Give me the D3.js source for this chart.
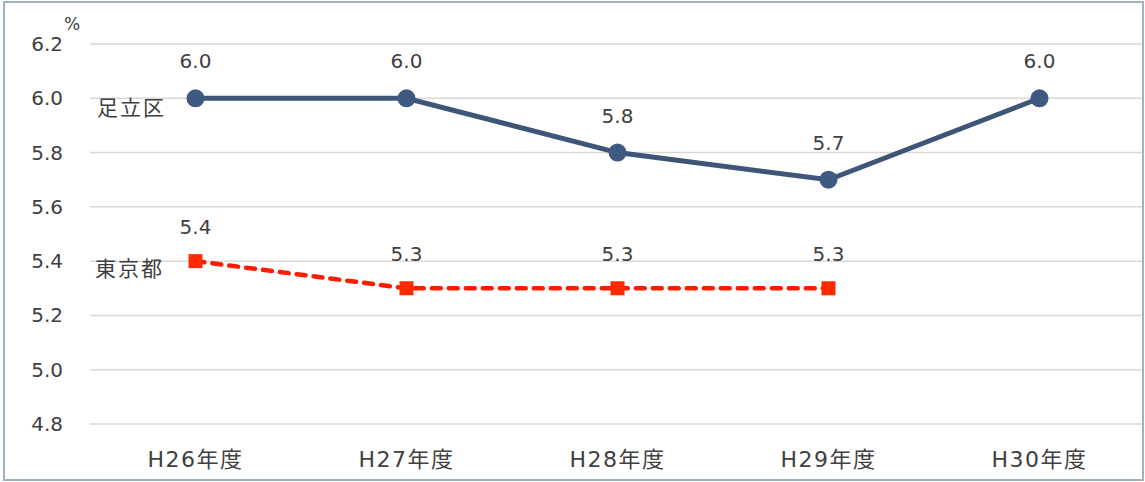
<!DOCTYPE html>
<html>
<head>
<meta charset="utf-8">
<script src="https://cdn.jsdelivr.net/npm/d3@7"></script>
<style>
  body { margin: 0; background: #fff; }
  svg text { font-family: "DejaVu Sans", "Noto Sans CJK JP", sans-serif; fill: #404040; }
</style>
</head>
<body>
<div id="chart"></div>
<script>
// data
const years = ["H26年度", "H27年度", "H28年度", "H29年度", "H30年度"];
const adachi = [6.0, 6.0, 5.8, 5.7, 6.0];
const tokyo = [5.4, 5.3, 5.3, 5.3, null];
const yTicks = [4.8, 5.0, 5.2, 5.4, 5.6, 5.8, 6.0, 6.2];

const width = 1145, height = 482;
const margin = { top: 44, right: 0, bottom: 58, left: 90 };

const svg = d3.select("#chart").append("svg")
    .attr("width", width)
    .attr("height", height);

// frame
svg.append("rect")
    .attr("x", 4).attr("y", 2)
    .attr("width", width - 6).attr("height", height - 4)
    .attr("fill", "#fff")
    .attr("stroke", "#9fb3c8")
    .attr("stroke-width", 2);

const xScale = d3.scaleBand()
    .domain(years)
    .range([margin.left, width - margin.right]);

const yScale = d3.scaleLinear()
    .domain([4.8, 6.2])
    .range([height - margin.bottom, margin.top]);

// gridlines
svg.append("g")
    .selectAll("line")
    .data(yTicks)
    .join("line")
    .attr("x1", margin.left)
    .attr("x2", width - 3)
    .attr("y1", d => yScale(d))
    .attr("y2", d => yScale(d))
    .attr("stroke", "#d9d9d9")
    .attr("stroke-width", 1.5);

// y labels
svg.append("g")
    .selectAll("text")
    .data(yTicks)
    .join("text")
    .attr("x", 63)
    .attr("y", d => yScale(d))
    .attr("dy", "0.35em")
    .attr("text-anchor", "end")
    .style("font-size", "20px")
    .text(d => d.toFixed(1));

svg.append("text")
    .attr("x", 64).attr("y", 30)
    .style("font-size", "17px")
    .text("%");

// x labels
svg.append("g")
    .selectAll("text")
    .data(years)
    .join("text")
    .attr("x", d => xScale(d) + xScale.bandwidth() / 2)
    .attr("y", 459)
    .attr("dy", "0.35em")
    .attr("text-anchor", "middle")
    .style("font-size", "22px")
    .style("letter-spacing", "1.5px")
    .text(d => d);

const cx = i => xScale(years[i]) + xScale.bandwidth() / 2;

// tokyo series (dashed red)
const tokyoPts = tokyo.map((v, i) => ({ i, v })).filter(d => d.v != null);
svg.append("path")
    .datum(tokyoPts)
    .attr("fill", "none")
    .attr("stroke", "#ff1a00")
    .attr("stroke-width", 4.5)
    .attr("stroke-dasharray", "9,8")
    .attr("stroke-linecap", "round")
    .attr("d", d3.line().x(d => cx(d.i)).y(d => yScale(d.v)));

svg.append("g")
    .selectAll("rect")
    .data(tokyoPts)
    .join("rect")
    .attr("x", d => cx(d.i) - 7)
    .attr("y", d => yScale(d.v) - 7)
    .attr("width", 14).attr("height", 14)
    .attr("fill", "#ff2a00");

svg.append("g")
    .selectAll("text")
    .data(tokyoPts)
    .join("text")
    .attr("x", d => cx(d.i))
    .attr("y", d => yScale(d.v) - 34)
    .attr("dy", "0.35em")
    .attr("text-anchor", "middle")
    .style("font-size", "20px")
    .text(d => d.v.toFixed(1));

// adachi series (solid navy)
const adachiPts = adachi.map((v, i) => ({ i, v }));
svg.append("path")
    .datum(adachiPts)
    .attr("fill", "none")
    .attr("stroke", "#3f5577")
    .attr("stroke-width", 5)
    .attr("d", d3.line().x(d => cx(d.i)).y(d => yScale(d.v)));

svg.append("g")
    .selectAll("circle")
    .data(adachiPts)
    .join("circle")
    .attr("cx", d => cx(d.i))
    .attr("cy", d => yScale(d.v))
    .attr("r", 9)
    .attr("fill", "#3e5a80");

svg.append("g")
    .selectAll("text")
    .data(adachiPts)
    .join("text")
    .attr("x", d => cx(d.i))
    .attr("y", d => yScale(d.v) - 37)
    .attr("dy", "0.35em")
    .attr("text-anchor", "middle")
    .style("font-size", "20px")
    .text(d => d.v.toFixed(1));

// series names
svg.append("text")
    .attr("x", 97).attr("y", yScale(adachi[0]) + 9)
    .attr("dy", "0.35em")
    .style("font-size", "21px")
    .style("letter-spacing", "2px")
    .text("足立区");

svg.append("text")
    .attr("x", 95).attr("y", yScale(tokyo[0]) + 8)
    .attr("dy", "0.35em")
    .style("font-size", "21px")
    .style("letter-spacing", "2px")
    .text("東京都");
</script>
</body>
</html>
